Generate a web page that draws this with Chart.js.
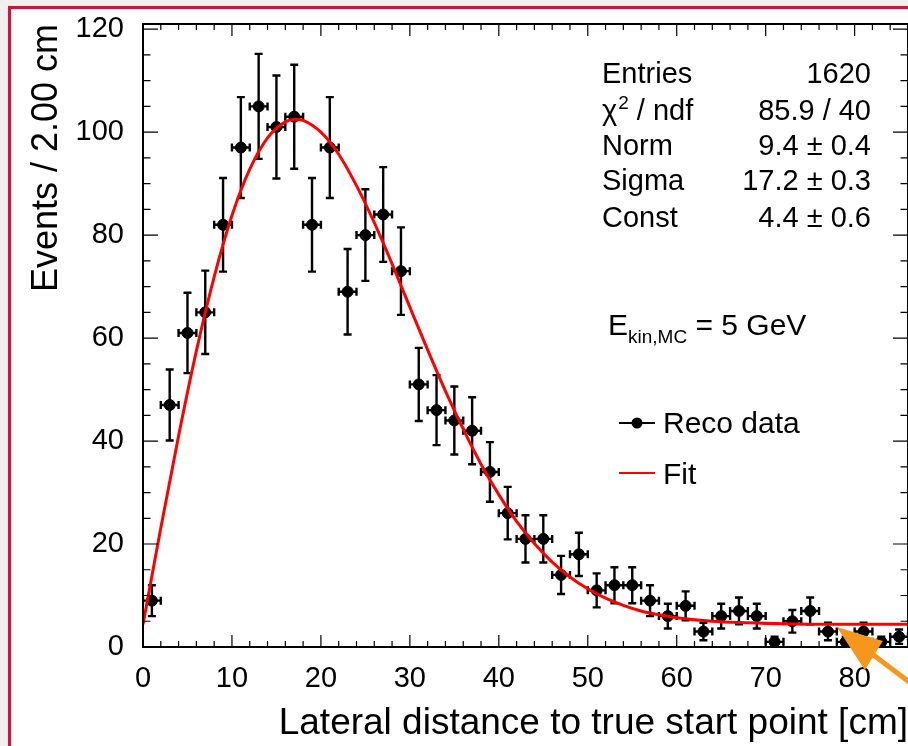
<!DOCTYPE html>
<html>
<head>
<meta charset="utf-8">
<script src="https://cdn.jsdelivr.net/npm/chart.js@4.4.0/dist/chart.umd.min.js"></script>
<style>
  body { margin: 0; background: #f1f0ee; overflow: hidden; width: 908px; height: 746px; }
  #frame { position: absolute; left: 8px; top: 6px; width: 1000px; height: 800px; border: 3px solid #c8173d; background: #fff; }
  canvas { position: absolute; left: 0; top: 0; }
</style>
</head>
<body>
<div id="frame"><canvas id="c" width="960" height="760"></canvas></div>
<script>
// histogram: bin centres in cm (2 cm bins) and event counts
var binCentres = [1, 3, 5, 7, 9, 11, 13, 15, 17, 19, 21, 23, 25, 27, 29, 31, 33, 35, 37, 39, 41, 43,
                  45, 47, 49, 51, 53, 55, 57, 59, 61, 63, 65, 67, 69, 71, 73, 75, 77, 79, 81, 83, 85];
var counts = [9, 47, 61, 65, 82, 97, 105, 101, 103, 82, 97, 69, 80, 84, 73, 51, 46, 44, 42, 34, 26, 21,
              21, 14, 18, 11, 12, 12, 9, 6, 8, 3, 6, 7, 6, 1, 5, 7, 3, 1, 3, 1, 2];
var countErrors = [3, 6.9, 7.8, 8.1, 9.1, 9.8, 10.2, 10, 10.1, 9.1, 9.8, 8.3, 8.9, 9.2, 8.5, 7.1, 6.8, 6.6, 6.5, 5.8, 5.1, 4.6,
                   4.6, 3.7, 4.2, 3.3, 3.5, 3.5, 3, 2.4, 2.8, 1.7, 2.4, 2.6, 2.4, 1, 2.2, 2.6, 1.7, 1, 1.7, 1, 1.4];
var binHalfWidth = 1;

// fitted curve
var fitX = [0, 1, 2, 4, 6, 8, 10, 12, 14, 16, 17.2, 18, 20, 22, 24, 26, 28, 30, 32, 34, 36, 38, 40,
            42, 44, 46, 48, 50, 52, 54, 56, 58, 60, 64, 68, 72, 78, 86];
var fitY = [4.4, 13.8, 23.1, 41.0, 57.5, 71.9, 83.8, 92.8, 98.9, 102.0, 102.5, 102.3, 100.0, 95.7, 89.6, 82.4, 74.4, 66.0, 57.7, 49.7, 42.3, 35.5, 29.6,
            24.4, 20.1, 16.5, 13.6, 11.3, 9.5, 8.1, 7.0, 6.25, 5.7, 5.0, 4.7, 4.5, 4.4, 4.4];

var xTicks = [0, 10, 20, 30, 40, 50, 60, 70, 80];
var yTicks = [0, 20, 40, 60, 80, 100, 120];

var statLabels = ['Entries', 'chi2', 'Norm', 'Sigma', 'Const'];
var statValues = ['1620', '85.9 / 40', '9.4 \u00b1 0.4', '17.2 \u00b1 0.3', '4.4 \u00b1 0.6'];

var FONT = '"Liberation Sans", Arial, Helvetica, sans-serif';

var errorBars = {
  id: 'errorBars',
  beforeDatasetsDraw: function(chart) {
    var ctx = chart.ctx, a = chart.chartArea;
    var xs = chart.scales.x, ys = chart.scales.y;
    ctx.save();
    ctx.beginPath();
    ctx.rect(a.left, a.top, a.right - a.left, a.bottom - a.top);
    ctx.clip();
    ctx.strokeStyle = '#000';
    ctx.lineWidth = 2.4;
    ctx.beginPath();
    for (var i = 0; i < counts.length; i++) {
      var px = xs.getPixelForValue(binCentres[i]);
      var py = ys.getPixelForValue(counts[i]);
      var hi = ys.getPixelForValue(counts[i] + countErrors[i]);
      var lo = ys.getPixelForValue(counts[i] - countErrors[i]);
      var l = xs.getPixelForValue(binCentres[i] - binHalfWidth);
      var r = xs.getPixelForValue(binCentres[i] + binHalfWidth);
      ctx.moveTo(px, hi); ctx.lineTo(px, lo);
      ctx.moveTo(px - 4, hi); ctx.lineTo(px + 4, hi);
      ctx.moveTo(px - 4, lo); ctx.lineTo(px + 4, lo);
      ctx.moveTo(l, py); ctx.lineTo(r, py);
      ctx.moveTo(l, py - 4); ctx.lineTo(l, py + 4);
      ctx.moveTo(r, py - 4); ctx.lineTo(r, py + 4);
    }
    ctx.stroke();
    ctx.restore();
  }
};

var frameAndText = {
  id: 'frameAndText',
  afterDraw: function(chart) {
    var ctx = chart.ctx, a = chart.chartArea;
    var xs = chart.scales.x, ys = chart.scales.y;
    ctx.save();
    // frame
    ctx.strokeStyle = '#000';
    ctx.lineWidth = 2;
    ctx.strokeRect(a.left, a.top, a.right - a.left, a.bottom - a.top);
    // ticks pointing inward on all four sides
    ctx.lineWidth = 1.2;
    ctx.beginPath();
    for (var v = 0; v <= xs.max; v += 2) {
      var px = xs.getPixelForValue(v);
      var len = v % 10 === 0 ? 12 : 6;
      ctx.moveTo(px, a.bottom); ctx.lineTo(px, a.bottom - len);
      ctx.moveTo(px, a.top); ctx.lineTo(px, a.top + len);
    }
    for (var w = 0; w <= ys.max; w += 5) {
      var py = ys.getPixelForValue(w);
      var tl = w % 20 === 0 ? 15 : 7.5;
      ctx.moveTo(a.left, py); ctx.lineTo(a.left + tl, py);
      ctx.moveTo(a.right, py); ctx.lineTo(a.right - tl, py);
    }
    ctx.stroke();

    // stats box
    ctx.fillStyle = '#000';
    ctx.font = '29px ' + FONT;
    var rows = [74, 111, 146, 181, 218];
    for (var i = 0; i < statLabels.length; i++) {
      ctx.textAlign = 'left';
      if (statLabels[i] === 'chi2') {
        var x0 = 591;
        ctx.fillText('\u03c7', x0, rows[i]);
        var cw = ctx.measureText('\u03c7').width;
        ctx.font = '19px ' + FONT;
        ctx.fillText('2', x0 + cw + 1, rows[i] - 11);
        var sw = ctx.measureText('2').width;
        ctx.font = '29px ' + FONT;
        ctx.fillText(' / ndf', x0 + cw + sw + 1, rows[i]);
      } else {
        ctx.fillText(statLabels[i], 591, rows[i]);
      }
      ctx.textAlign = 'right';
      ctx.fillText(statValues[i], 860, rows[i]);
    }

    // energy label
    ctx.textAlign = 'left';
    ctx.font = '30px ' + FONT;
    ctx.fillText('E', 597, 326);
    var ew = ctx.measureText('E').width;
    ctx.font = '19px ' + FONT;
    ctx.fillText('kin,MC', 597 + ew, 334);
    var kw = ctx.measureText('kin,MC').width;
    ctx.font = '30px ' + FONT;
    ctx.fillText(' = 5 GeV', 597 + ew + kw, 326);

    // legend
    ctx.strokeStyle = '#000';
    ctx.lineWidth = 2;
    ctx.beginPath();
    ctx.moveTo(608, 414); ctx.lineTo(644, 414);
    ctx.stroke();
    ctx.beginPath();
    ctx.arc(626, 414, 5.5, 0, Math.PI * 2);
    ctx.fill();
    ctx.strokeStyle = '#ff0000';
    ctx.beginPath();
    ctx.moveTo(608, 464); ctx.lineTo(644, 464);
    ctx.stroke();
    ctx.font = '30px ' + FONT;
    ctx.fillText('Reco data', 652, 424);
    ctx.fillText('Fit', 652, 475);

    // orange annotation arrow pointing at the fit tail
    var tx = xs.getPixelForValue(78), ty = ys.getPixelForValue(3.9);
    ctx.fillStyle = '#f5961d';
    ctx.strokeStyle = '#f5961d';
    ctx.beginPath();
    ctx.moveTo(tx, ty);
    ctx.lineTo(tx + 46, ty + 14);
    ctx.lineTo(tx + 28, ty + 43);
    ctx.closePath();
    ctx.fill();
    ctx.lineWidth = 5;
    ctx.beginPath();
    ctx.moveTo(tx + 34, ty + 26);
    ctx.lineTo(tx + 34 + 120 * 0.797, ty + 26 + 120 * 0.603);
    ctx.stroke();
    ctx.restore();
  }
};

var ctx = document.getElementById('c').getContext('2d');
var points = binCentres.map(function(x, i) { return { x: x, y: counts[i] }; });
var fitPoints = fitX.map(function(x, i) { return { x: x, y: fitY[i] }; });

new Chart(ctx, {
  type: 'scatter',
  data: {
    datasets: [{
      label: 'Fit',
      type: 'line',
      data: fitPoints,
      borderColor: '#ff0000',
      borderWidth: 3,
      pointRadius: 0,
      cubicInterpolationMode: 'monotone',
      fill: false,
      order: 0
    }, {
      label: 'Reco data',
      data: points,
      backgroundColor: '#000',
      borderColor: '#000',
      pointRadius: 5.5,
      pointHoverRadius: 5.5,
      order: 1
    }]
  },
  options: {
    responsive: false,
    animation: false,
    devicePixelRatio: 1,
    layout: { padding: { top: 15, right: 63, left: 0, bottom: 0 } },
    plugins: { legend: { display: false }, tooltip: { enabled: false } },
    scales: {
      x: {
        type: 'linear',
        min: 0,
        max: 86,
        grid: { display: false, drawTicks: false },
        border: { display: false },
        ticks: { color: '#000', font: { size: 29, family: FONT }, padding: 15, maxRotation: 0 },
        afterBuildTicks: function(s) { s.ticks = xTicks.map(function(v) { return { value: v }; }); },
        afterFit: function(s) { s.height = 122; s.paddingLeft = 0; s.paddingRight = 0; },
        title: {
          display: true,
          text: 'Lateral distance to true start point [cm]',
          align: 'end',
          color: '#000',
          font: { size: 37, family: FONT },
          padding: { top: 0, bottom: 23 }
        }
      },
      y: {
        type: 'linear',
        min: 0,
        max: 121,
        grid: { display: false, drawTicks: false },
        border: { display: false },
        ticks: { color: '#000', font: { size: 29, family: FONT }, padding: 19 },
        afterBuildTicks: function(s) { s.ticks = yTicks.map(function(v) { return { value: v }; }); },
        afterFit: function(s) { s.width = 132; s.paddingTop = 0; s.paddingBottom = 0; },
        title: {
          display: true,
          text: 'Events / 2.00 cm',
          align: 'end',
          color: '#000',
          font: { size: 36, family: FONT },
          padding: { top: 14, bottom: 0 }
        }
      }
    }
  },
  plugins: [errorBars, frameAndText]
});
</script>
</body>
</html>
